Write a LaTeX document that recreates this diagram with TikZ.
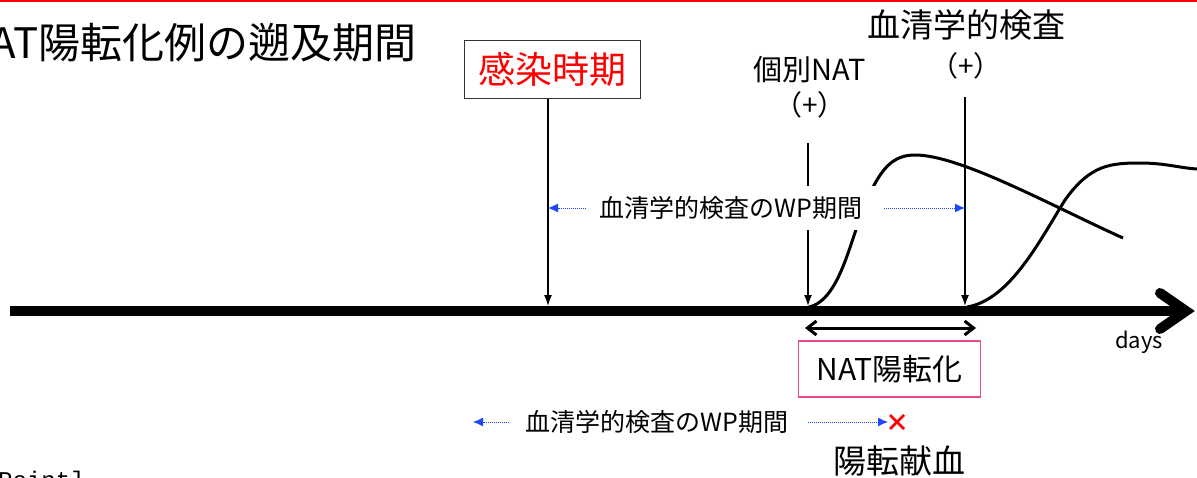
\documentclass[tikz,border=0pt]{standalone}
\usepackage{fontspec}
\setmainfont{Noto Sans CJK JP}
\newfontfamily\monofnt{Liberation Mono}
\usetikzlibrary{arrows.meta}
\definecolor{wpblue}{HTML}{1F45FF}
\definecolor{natpink}{HTML}{E8488A}
\tikzset{
  fs/.style={font=\fontsize{#1pt}{#1pt}\selectfont},
  vline/.style={line width=1.5pt,-{Latex[length=11pt,width=8pt]}},
  wparrow/.style={wpblue,line width=1pt,dash pattern=on 1pt off 1pt,-{Latex[length=10pt,width=9pt]}},
  curve/.style={line width=3pt},
  txt/.style={inner sep=0pt,anchor=center},
}
\begin{document}
\begin{tikzpicture}[x=1pt,y=-1pt]
\useasboundingbox (0,0) rectangle (1197,477);
% top red rule
\draw[red,line width=1.5pt] (0,1) -- (1197,1);
% title
\node[txt,fs=42,anchor=east] (title) at (417,43) {NAT陽転化例の遡及期間};
% cut-off text at bottom left
\node[inner sep=0pt,anchor=north west,font=\monofnt\fontsize{24pt}{24pt}\selectfont] (cut) at (-2,471) {Point]};
% curves
\draw[curve] (809,307) .. controls (840,300) and (850,240) .. (865,205) .. controls (880,168) and (893,155) .. (915,155) .. controls (960,155) and (1050,205) .. (1123,238);
\draw[curve] (967,307) .. controls (1010,300) and (1040,240) .. (1065,200) .. controls (1090,165) and (1110,163) .. (1140,163) .. controls (1165,163) and (1180,168) .. (1197,169);
% main axis
\coordinate (ax0) at (10,311);
\coordinate (ax1) at (1180,311);
\draw[line width=10pt] (ax0) -- (ax1);
\draw[line width=10pt,line cap=round,line join=miter] (1160,293) -- (1186,311) -- (1160,329);
\node[txt,fs=22] (days) at (1139,342) {days};
% infection box
\node[draw=black!80,line width=1.5pt,minimum width=176pt,minimum height=58pt,inner sep=0pt,text=red,fs=37] (inf) at (552.5,69.5) {感染時期};
\coordinate (infax) at (548,306);
\draw[vline] (inf.south -| infax) -- (infax);
% NAT label
\node[txt,fs=29] (nat) at (810,70) {個別NAT};
\node[txt,fs=28] (natp) at (810,105) {（+）};
\coordinate (natt) at (808,143);
\coordinate (natax) at (808,306);
\draw[vline] (natt) -- (natax);
% serology label
\node[txt,fs=33] (ser) at (966,25) {血清学的検査};
\node[txt,fs=28] (serp) at (966,66) {（+）};
\coordinate (sert) at (965,97);
\coordinate (serax) at (965,306);
\draw[vline] (sert) -- (serax);
% WP label upper (white box covering)
\fill[white] (588,186) rectangle (878,230);
\node[txt,fs=25] (wp1) at (731,208) {血清学的検査のWP期間};
\coordinate (wp1l) at (586,208);
\coordinate (wp1r) at (884,208);
\draw[wparrow] (wp1l) -- (wp1l -| infax);
\draw[wparrow] (wp1r) -- (wp1r -| serax);
% NAT conversion interval
\coordinate (iv0) at (805,328);
\coordinate (iv1) at (976,328);
\draw[line width=3pt,{Straight Barb[length=9pt,width=14pt]}-{Straight Barb[length=9pt,width=14pt]}] (iv0) -- (iv1);
\node[draw=natpink,line width=1.5pt,minimum width=182pt,minimum height=56pt,inner sep=0pt,fs=30] (natc) at (889.5,369) {NAT陽転化};
% lower WP label
\node[txt,fs=25] (wp2) at (657,422) {血清学的検査のWP期間};
\coordinate (wp2l) at (509,422);
\coordinate (wp2lt) at (473,422);
\coordinate (wp2r) at (808,422);
\coordinate (x) at (897,422);
\draw[wparrow] (wp2l) -- (wp2lt);
\draw[wparrow] (wp2r) -- ([xshift=-9pt]x);
\draw[red,line width=2.5pt] ([shift={(-7,-7)}]x) -- ([shift={(7,7)}]x) ([shift={(-7,7)}]x) -- ([shift={(7,-7)}]x);
\node[txt,fs=33] (don) at (899,461) {陽転献血};
\end{tikzpicture}
\end{document}
